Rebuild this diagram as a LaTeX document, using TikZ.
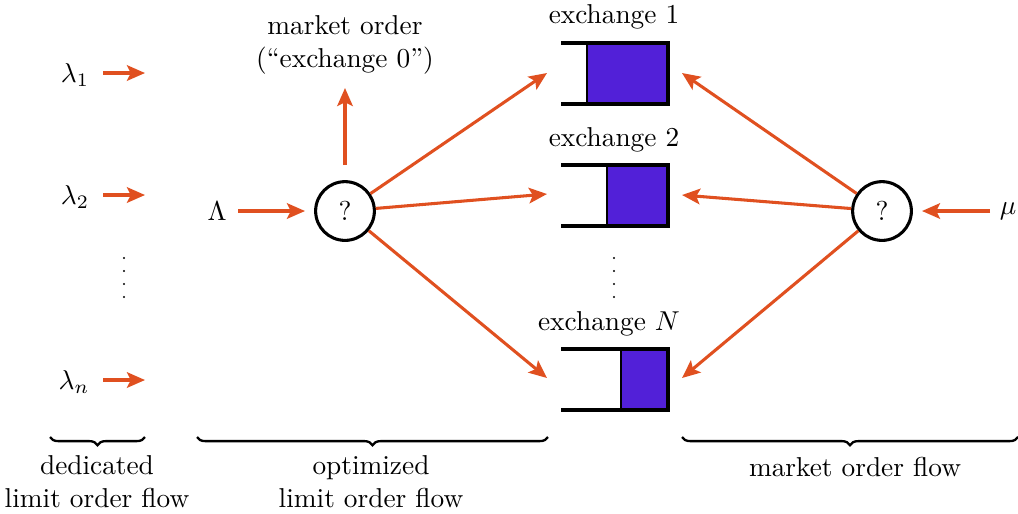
\documentclass[tikz,border=0pt]{standalone}
\usetikzlibrary{arrows.meta,decorations.pathreplacing}
\definecolor{flow}{RGB}{224,80,32}
\definecolor{queuefill}{RGB}{82,32,216}
\tikzset{
  flowarrow/.style={draw=flow, line width=1.12pt, -{Stealth[length=6.6pt,width=5.7pt,inset=1.4pt]}},
  router/.style={circle, draw, line width=1.12pt, minimum size=21.5pt, inner sep=0pt},
  queueline/.style={line width=1.12pt},
  bracestyle/.style={decorate, decoration={brace, mirror, amplitude=3pt}, line width=0.85pt},
  lbl/.style={inner sep=1pt, align=center},
  dotmark/.style={fill, circle, inner sep=0pt, minimum size=0.85pt},
}
\newcommand{\queue}[3]{% name, y-top, box left x
  \fill[queuefill] (#3,#2) rectangle (668,#2+61);
  \draw[line width=0.4pt] (#3,#2) -- (#3,#2+61);
  \draw[queueline] (561,#2) -- (668,#2) -- (668,#2+61) -- (561,#2+61);
}
\newcommand{\fourdots}[2]{% name prefix, x
  \foreach \k/\yy in {a/258,b/271,c/284,d/297}
    \node[dotmark] (#1\k) at (#2,\yy) {};
}
\begin{document}
\begin{tikzpicture}[x=0.366pt,y=-0.366pt]
\useasboundingbox (0,0) rectangle (1018,513);

% dedicated limit order flows
\node[lbl] (l1) at (75,75) {$\lambda_1$};
\node[lbl] (l2) at (75,197) {$\lambda_2$};
\node[lbl] (ln) at (74,382) {$\lambda_n$};
\coordinate (l1s) at (103,73); \coordinate (l1e) at (145,73);
\coordinate (l2s) at (103,195); \coordinate (l2e) at (145,195);
\coordinate (lns) at (103,380); \coordinate (lne) at (145,380);
\draw[flowarrow] (l1s) -- (l1e);
\draw[flowarrow] (l2s) -- (l2e);
\draw[flowarrow] (lns) -- (lne);
\fourdots{ld}{124}

% optimized flow router
\node[lbl] (Lam) at (217,211) {$\Lambda$};
\node[router] (r1) at (345,211) {?};
\coordinate (Lams) at (238,211); \coordinate (Lame) at (305,211);
\draw[flowarrow] (Lams) -- (Lame);
\node[lbl] (mkt) at (345,45) {market order\\(``exchange 0'')};
\coordinate (mkts) at (345,165); \coordinate (mkte) at (345,88);
\draw[flowarrow] (mkts) -- (mkte);

% exchanges
\queue{1}{43}{587}
\queue{2}{165}{607}
\queue{3}{349}{621}
\node[lbl] (x1) at (614,17) {exchange 1};
\node[lbl] (x2) at (614,140) {exchange 2};
\node[lbl] (xN) at (609,324) {exchange $N$};
\fourdots{xd}{614}
\coordinate (q1in) at (547,73);
\coordinate (q2in) at (547,194);
\coordinate (q3in) at (547,378);
\coordinate (q1out) at (682,73);
\coordinate (q2out) at (682,195);
\coordinate (q3out) at (682,378);

\draw[flowarrow] (r1) -- (q1in);
\draw[flowarrow] (r1) -- (q2in);
\draw[flowarrow] (r1) -- (q3in);

% market order router
\node[router] (r2) at (882,211) {?};
\node[lbl] (mu) at (1008,211) {$\mu$};
\draw[flowarrow] (r2) -- (q1out);
\draw[flowarrow] (r2) -- (q2out);
\draw[flowarrow] (r2) -- (q3out);
\coordinate (mus) at (990,211); \coordinate (mue) at (922,211);
\draw[flowarrow] (mus) -- (mue);

% braces
\coordinate (b1a) at (50,437); \coordinate (b1b) at (145,437);
\coordinate (b2a) at (197,437); \coordinate (b2b) at (548,437);
\coordinate (b3a) at (682,437); \coordinate (b3b) at (1018,437);
\draw[bracestyle] (b1a) -- (b1b);
\draw[bracestyle] (b2a) -- (b2b);
\draw[bracestyle] (b3a) -- (b3b);
\node[lbl] (t1) at (97,482) {dedicated\\limit order flow};
\node[lbl] (t2) at (371,482) {optimized\\limit order flow};
\node[lbl] (t3) at (855,467) {market order flow};
\end{tikzpicture}
\end{document}
